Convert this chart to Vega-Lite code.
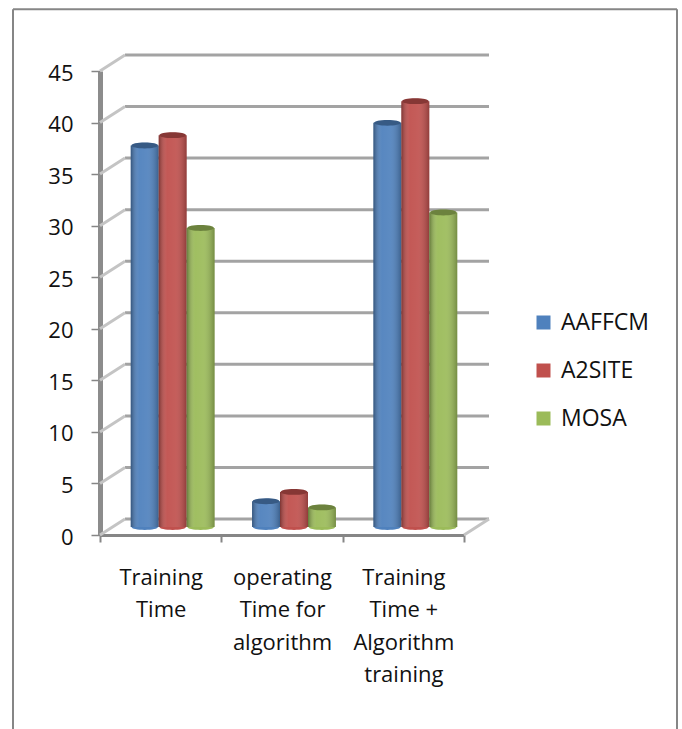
{
"$schema":"https://vega.github.io/schema/vega-lite/v6.json",
"width":364,"height":464,
"autosize":{"type":"none"},
"padding":{"left":100,"top":71,"right":218,"bottom":194},
"background":"white",
"config":{"view":{"stroke":null},"font":"Open Sans",
 "axisY":{"grid":false,"tickCount":9,"labelFontSize":22,"labelColor":"#111111","labelPadding":18,"labelOffset":2,"domainColor":"#8c8c8c","domainWidth":5,"tickColor":"#868686","tickWidth":1.5,"tickSize":9,"labelFont":"Open Sans"}},
"datasets":{
"bars":[
{"cat":"Training|Time","series":"AAFFCM","v":37},
{"cat":"Training|Time","series":"A2SITE","v":38},
{"cat":"Training|Time","series":"MOSA","v":29},
{"cat":"operating|Time for|algorithm","series":"AAFFCM","v":2.5},
{"cat":"operating|Time for|algorithm","series":"A2SITE","v":3.4},
{"cat":"operating|Time for|algorithm","series":"MOSA","v":1.9},
{"cat":"Training|Time  +|Algorithm|training","series":"AAFFCM","v":39.2},
{"cat":"Training|Time  +|Algorithm|training","series":"A2SITE","v":41.3},
{"cat":"Training|Time  +|Algorithm|training","series":"MOSA","v":30.5}
],
"grid":[{"v":0},{"v":5},{"v":10},{"v":15},{"v":20},{"v":25},{"v":30},{"v":35},{"v":40},{"v":45}]
},
"layer":[
{"data":{"values":[{"a":-87,"b":-87,"t":51,"u":-19},{"a":577,"b":577,"t":51,"u":-19},{"a":-87,"b":577,"t":51,"u":51}]},
 "mark":{"type":"rule","color":"#868686","strokeWidth":2},
 "encoding":{"x":{"field":"a","type":"quantitative","scale":{"domain":[0,364],"range":[0,364]},"axis":null},"x2":{"field":"b"},
 "y":{"field":"t","type":"quantitative","title":null,"scale":{"domain":[0,45],"range":[464,0],"nice":false}},"y2":{"field":"u"}}},
{"data":{"name":"grid"},
 "transform":[{"calculate":"25","as":"a"},{"calculate":"389","as":"b"}],
 "mark":{"type":"rule","color":"#a3a3a3","strokeWidth":3,"yOffset":-16,"y2Offset":-16},
 "encoding":{"x":{"field":"a","type":"quantitative","scale":{"domain":[0,364],"range":[0,364]},"axis":null},"x2":{"field":"b"},
 "y":{"field":"v","type":"quantitative","title":null},"y2":{"field":"v"}}},
{"data":{"name":"grid"},
 "transform":[{"calculate":"0","as":"a"},{"calculate":"25","as":"b"}],
 "mark":{"type":"rule","color":"#c4c4c4","strokeWidth":3,"y2Offset":-16},
 "encoding":{"x":{"field":"a","type":"quantitative","scale":{"domain":[0,364],"range":[0,364]},"axis":null},"x2":{"field":"b"},
 "y":{"field":"v","type":"quantitative","title":null},"y2":{"field":"v"}}},
{"data":{"values":[{"v":0,"a":364,"b":389}]},
 "mark":{"type":"rule","color":"#c4c4c4","strokeWidth":3,"y2Offset":-16},
 "encoding":{"x":{"field":"a","type":"quantitative","scale":{"domain":[0,364],"range":[0,364]},"axis":null},"x2":{"field":"b"},
 "y":{"field":"v","type":"quantitative","title":null},"y2":{"field":"v"}}},
{"data":{"name":"bars"},
 "mark":{"type":"bar","opacity":0},
 "encoding":{
 "x":{"field":"cat","type":"nominal","sort":null,"scale":{"padding":0},
   "axis":{"title":null,"labelAngle":0,"labelExpr":"split(datum.label,'|')","labelFontSize":22,"labelColor":"#111111","labelLineHeight":32.5,"labelPadding":25,"labelBaseline":"top","tickBand":"extent","domainColor":"#868686","domainWidth":3,"tickColor":"#868686","tickWidth":2,"tickSize":7,"labelFont":"Open Sans"}},
 "y":{"field":"v","type":"quantitative","title":null,"stack":null}
 }},
{"data":{"name":"bars"},
 "mark":{"type":"point","filled":true,"opacity":1,"yOffset":-8,"shape":"M-1,0A1,0.22 0 1,1 1,0A1,0.22 0 1,1 -1,0Z","size":700},
 "encoding":{
 "x":{"field":"cat","type":"nominal","sort":null,"scale":{"padding":0,"range":[12,376]},"axis":null},
 "xOffset":{"field":"series","sort":["AAFFCM","A2SITE","MOSA"],"scale":{"paddingInner":0,"paddingOuter":0.67}},
 "y":{"datum":0,"type":"quantitative","title":null},
 "color":{"field":"series","type":"nominal","sort":["AAFFCM","A2SITE","MOSA"],
   "scale":{"domain":["AAFFCM","A2SITE","MOSA"],"range":["#4F81BD","#C0504D","#9BBB59"]},
   "legend":{"title":null,"orient":"none","legendX":432,"legendY":240,"symbolType":"square","symbolSize":196,"symbolStrokeWidth":0,"labelFontSize":23,"labelColor":"#111111","labelOffset":6,"rowPadding":24,"labelFont":"Open Sans"}}
 }},
{"data":{"name":"bars"},
 "mark":{"type":"bar","yOffset":-8,"y2Offset":-8},
 "encoding":{
 "x":{"field":"cat","type":"nominal","sort":null,"scale":{"padding":0,"range":[12,376]},"axis":null},
 "xOffset":{"field":"series","sort":["AAFFCM","A2SITE","MOSA"],"scale":{"paddingInner":0,"paddingOuter":0.67}},
 "y":{"field":"v","type":"quantitative","title":null,"stack":null},
 "y2":{"datum":0},
 "color":{"field":"series","type":"nominal","sort":["AAFFCM","A2SITE","MOSA"],
   "legend":{"title":null,"orient":"none","legendX":432,"legendY":240,"symbolType":"square","symbolSize":196,"symbolStrokeWidth":0,"labelFontSize":23,"labelColor":"#111111","labelOffset":6,"rowPadding":24,"labelFont":"Open Sans"}}
 }},
{"data":{"name":"bars"},
 "mark":{"type":"bar","yOffset":-8,"y2Offset":-8,
   "fill":{"gradient":"linear","x1":0,"x2":1,"y1":0,"y2":0,"stops":[{"offset":0,"color":"rgba(0,0,0,0.35)"},{"offset":0.3,"color":"rgba(255,255,255,0.05)"},{"offset":0.6,"color":"rgba(255,255,255,0.08)"},{"offset":1,"color":"rgba(0,0,0,0.25)"}]}},
 "encoding":{
 "x":{"field":"cat","type":"nominal","sort":null,"scale":{"padding":0,"range":[12,376]},"axis":null},
 "xOffset":{"field":"series","sort":["AAFFCM","A2SITE","MOSA"],"scale":{"paddingInner":0,"paddingOuter":0.67}},
 "y":{"field":"v","type":"quantitative","title":null,"stack":null},
 "y2":{"datum":0}
 }},
{"data":{"name":"bars"},
 "mark":{"type":"point","filled":true,"opacity":1,"yOffset":-8,"shape":"M-1,0A1,0.22 0 1,1 1,0A1,0.22 0 1,1 -1,0Z","size":700},
 "encoding":{
 "x":{"field":"cat","type":"nominal","sort":null,"scale":{"padding":0,"range":[12,376]},"axis":null},
 "xOffset":{"field":"series","sort":["AAFFCM","A2SITE","MOSA"],"scale":{"paddingInner":0,"paddingOuter":0.67}},
 "y":{"field":"v","type":"quantitative","title":null},
 "color":{"field":"series","type":"nominal","sort":["AAFFCM","A2SITE","MOSA"],
   "legend":{"title":null,"orient":"none","legendX":432,"legendY":240,"symbolType":"square","symbolSize":196,"symbolStrokeWidth":0,"labelFontSize":23,"labelColor":"#111111","labelOffset":6,"rowPadding":24,"labelFont":"Open Sans"}}
 }},
{"data":{"name":"bars"},
 "mark":{"type":"point","filled":true,"opacity":0.3,"color":"black","yOffset":-8,"shape":"M-1,0A1,0.22 0 1,1 1,0A1,0.22 0 1,1 -1,0Z","size":700},
 "encoding":{
 "x":{"field":"cat","type":"nominal","sort":null,"scale":{"padding":0,"range":[12,376]},"axis":null},
 "xOffset":{"field":"series","sort":["AAFFCM","A2SITE","MOSA"],"scale":{"paddingInner":0,"paddingOuter":0.67}},
 "y":{"field":"v","type":"quantitative","title":null}
 }}
],
"resolve":{"scale":{"x":"independent"}}
}
